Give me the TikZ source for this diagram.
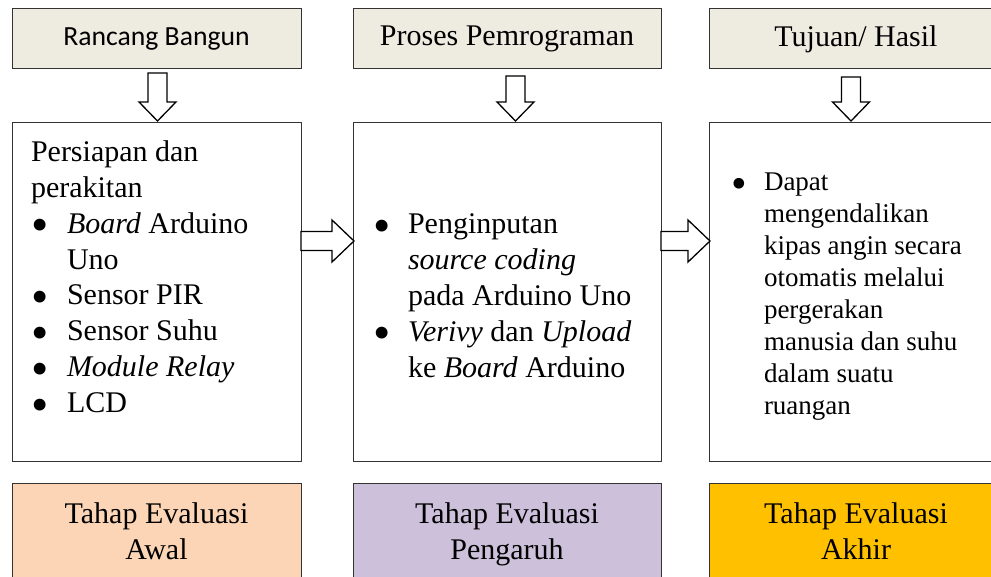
\documentclass[tikz,border=0pt]{standalone}
\usepackage{fontspec}
\usepackage{graphicx}
\setmainfont{Liberation Serif}
\newfontfamily\calibrifont{Carlito}
\usetikzlibrary{positioning, calc}

\definecolor{judulfill}{HTML}{EEECE1}
\definecolor{awalfill}{HTML}{FBD5B5}
\definecolor{pengaruhfill}{HTML}{CCC0DA}
\definecolor{akhirfill}{HTML}{FFC000}

\newcommand{\butir}[1][36pt]{\makebox[#1][l]{\raisebox{-0.28em}[0pt][0pt]{\scalebox{1.65}{\textbullet}}}}

\begin{document}
\begin{tikzpicture}[
	x=1pt, y=-1pt,
	every node/.style={inner sep=0pt, outer sep=0pt},
	kotak/.style={draw=black!80, line width=1pt, anchor=north west},
	judul/.style={kotak, fill=judulfill, minimum height=60pt, font=\rmfamily\fontsize{30}{36}\selectfont},
	isi/.style={kotak, fill=white, minimum height=338pt},
	evaluasi/.style={kotak, minimum height=120pt},
	teks/.style={font=\rmfamily\fontsize{30}{35.9}\selectfont, align=left, anchor=north west},
	tekseval/.style={font=\rmfamily\fontsize{30}{36}\selectfont, align=center, anchor=north},
	blok/.style={draw=black, line width=1.3pt, fill=white, line join=miter},
	]
	\useasboundingbox (0,0) rectangle (991,577);
	
	% baris atas
	\node[judul, minimum width=289pt, font=\calibrifont\fontsize{27.7}{33}\selectfont] (rancang) at (12,9) {Rancang Bangun};
	\node[judul, minimum width=308pt] (proses) at (353,9) {Proses Pemrograman};
	\node[judul, minimum width=294pt] (tujuan) at (709,9) {Tujuan/ Hasil};
	
	% kotak isi
	\node[isi, minimum width=289pt] (persiapan) at (12,123) {};
	\node[isi, minimum width=308pt] (program) at (353,123) {};
	\node[isi, minimum width=294pt] (hasil) at (709,123) {};
	
	\node[teks] (persiapantext) at ($(persiapan.north west)+(19,17.5)$) {Persiapan dan\\
		perakitan\\
		\butir\textit{Board} Arduino\\
		\hspace*{36pt}Uno\\
		\butir Sensor PIR\\
		\butir Sensor Suhu\\
		\butir\textit{Module Relay}\\
		\butir LCD};
	\node[teks] (programtext) at ($(program.north west)+(20,91)$) {\butir[35pt]Penginputan\\
		\hspace*{35pt}\textit{source coding}\\
		\hspace*{35pt}pada Arduino Uno\\
		\butir[35pt]\textit{Verivy} dan \textit{Upload}\\
		\hspace*{35pt}ke \textit{Board} Arduino};
	\node[teks, font=\rmfamily\fontsize{27}{32}\selectfont] (hasiltext) at ($(hasil.north west)+(22,50)$) {\butir[33pt]Dapat\\
		\hspace*{33pt}mengendalikan\\
		\hspace*{33pt}kipas angin secara\\
		\hspace*{33pt}otomatis melalui\\
		\hspace*{33pt}pergerakan\\
		\hspace*{33pt}manusia dan suhu\\
		\hspace*{33pt}dalam suatu\\
		\hspace*{33pt}ruangan};
	
	% tahap evaluasi
	\node[evaluasi, fill=awalfill, minimum width=289pt] (awal) at (12,483) {};
	\node[evaluasi, fill=pengaruhfill, minimum width=308pt] (pengaruh) at (353,483) {};
	\node[evaluasi, fill=akhirfill, minimum width=294pt] (akhir) at (709,483) {};
	\node[tekseval] (awaltext) at ($(awal.north)+(0,19.5)$) {Tahap Evaluasi\\Awal};
	\node[tekseval] (pengaruhtext) at ($(pengaruh.north)+(0,19.5)$) {Tahap Evaluasi\\Pengaruh};
	\node[tekseval] (akhirtext) at ($(akhir.north)+(0,19.5)$) {Tahap Evaluasi\\Akhir};
	
	% panah ke bawah
	\foreach \atas/\bawah/\dx/\dy in {rancang/persiapan/1/4, proses/program/8.5/7, tujuan/hasil/-5/8}
		\draw[blok] ($(\atas.south)+(\dx-9.5,\dy)$) -- ($(\atas.south)+(\dx+9.5,\dy)$)
			-- ($(\bawah.north)+(\dx+9.5,-21)$) -- ($(\bawah.north)+(\dx+18.5,-21)$)
			-- ($(\bawah.north)+(\dx,-2)$)
			-- ($(\bawah.north)+(\dx-18.5,-21)$) -- ($(\bawah.north)+(\dx-9.5,-21)$) -- cycle;
	
	% panah ke kanan
	\foreach \kiri/\kanan in {persiapan/program, program/hasil}
		\draw[blok] ($(\kiri.north east)+(0,108.5)$) -- ($(\kanan.north west)+(-21,108.5)$)
			-- ($(\kanan.north west)+(-21,97)$) -- ($(\kanan.north west)+(1,118)$)
			-- ($(\kanan.north west)+(-21,139)$) -- ($(\kanan.north west)+(-21,127.5)$)
			-- ($(\kiri.north east)+(0,127.5)$) -- cycle;
\end{tikzpicture}
\end{document}
